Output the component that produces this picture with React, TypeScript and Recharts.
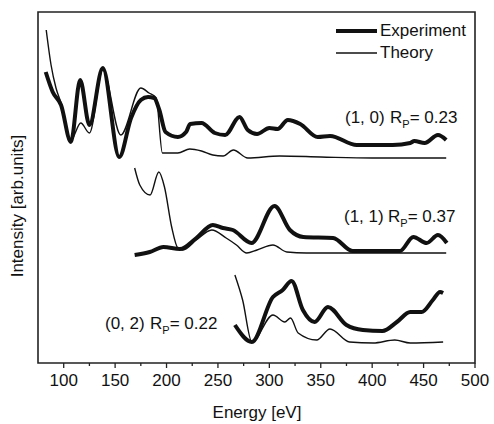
import { LineChart, Line, XAxis, YAxis, Legend, Customized, ReferenceArea } from 'recharts';

// energies (eV) and intensities (arb. units)
const exp10E = [82.5, 89.3, 97.4, 107, 116, 125, 138, 154, 165.5, 175, 182, 188, 193, 199, 211, 219, 223, 234, 247, 257, 271, 279, 288, 300, 308, 318, 330, 347, 359, 385, 420, 437, 441, 451, 464, 472];
const exp10I = [29.1, 27.1, 25.8, 22.1, 28.3, 23.8, 29.5, 20.6, 24.5, 26.3, 26.6, 26.5, 25.3, 23.1, 22.6, 23.1, 23.9, 24.0, 23.0, 22.8, 24.6, 23.3, 22.9, 23.5, 23.4, 24.3, 23.9, 22.6, 22.7, 21.8, 21.8, 22.0, 22.2, 22.0, 22.8, 22.3];

const th10E = [83, 87.7, 92.5, 97.4, 107, 116.6, 125, 138, 155.5, 175, 183, 190, 196, 211, 222.6, 234, 245, 255, 265, 279, 310, 350, 400, 472];
const th10I = [33.3, 29.8, 27.5, 26.0, 22.3, 24.0, 23.0, 29.3, 22.8, 27.5, 27.0, 26.5, 21.0, 21.0, 21.4, 21.2, 20.8, 20.7, 21.3, 20.5, 20.7, 20.6, 20.5, 20.5];

const exp11E = [169, 183.7, 197, 213, 229, 245, 254.8, 264.5, 282.6, 305, 320, 333, 362, 381, 427, 440, 453, 464, 472.6];
const exp11I = [10.8, 11.1, 11.6, 11.4, 12.5, 13.8, 13.5, 13.3, 12.0, 15.7, 13.3, 12.6, 12.5, 11.2, 11.2, 12.6, 12.0, 12.8, 12.0];

const th11E = [169, 174, 184, 192.5, 198, 205, 211, 216, 229, 244, 258, 268, 278, 288, 303.5, 317, 336, 400, 472];
const th11I = [19.5, 17.8, 16.8, 19.1, 17.6, 13.6, 11.5, 11.3, 12.3, 13.3, 12.5, 11.8, 11.0, 11.3, 11.8, 11.1, 11.0, 11.0, 11.0];

const exp02E = [266.5, 283, 303.5, 313, 321.6, 332.6, 344, 357, 375, 391, 410, 424, 437, 448, 459, 466, 469];
const exp02I = [3.8, 2.1, 6.6, 7.3, 8.2, 5.3, 4.1, 5.6, 3.8, 3.3, 3.2, 4.1, 5.1, 5.1, 6.3, 7.1, 7.0];

const th02E = [266.5, 274, 283, 303.5, 315, 320.6, 328, 346, 359, 378, 401, 422, 437, 469];
const th02I = [8.8, 6.3, 2.1, 4.8, 4.1, 4.5, 3.0, 2.3, 3.4, 2.1, 2.0, 2.3, 2.0, 2.1];

const xTicks = [100, 125, 150, 175, 200, 225, 250, 275, 300, 325, 350, 375, 400, 425, 450, 475, 500];

const labels = [
  { hkl: '(1, 0)', rp: '0.23' },
  { hkl: '(1, 1)', rp: '0.37' },
  { hkl: '(0, 2)', rp: '0.22' },
];

const FONT = '"Liberation Sans", Arial, sans-serif';
const INK = '#111';
const FRAME = '#222';

const toPoints = (e: number[], v: number[]) => e.map((x, i) => ({ e: x, v: v[i] }));

const EnergyTick = (props: any) => {
  const { x, y, payload } = props;
  const major = payload.value % 50 === 0;
  return (
    <g>
      <line x1={x} x2={x} y1={y} y2={y + (major ? 5 : 3)} stroke={FRAME} strokeWidth={1.3} />
      {major && (
        <text x={x} y={y + 23} textAnchor="middle" fontSize={17} fontFamily={FONT} fill={INK}>
          {payload.value}
        </text>
      )}
    </g>
  );
};

const labelPos = [
  { x: 345, r: 390, y: 123 },
  { x: 344, r: 388, y: 222 },
  { x: 105, r: 150, y: 329 },
];

const Annotations = () => (
  <g fontFamily={FONT} fill={INK}>
    {labels.map((l, i) => (
      <g key={l.hkl}>
        <text x={labelPos[i].x} y={labelPos[i].y} fontSize={17}>{l.hkl}</text>
        <text x={labelPos[i].r} y={labelPos[i].y} fontSize={17}>
          R
          <tspan fontSize={11} dy={5}>P</tspan>
          <tspan dy={-5}>= {l.rp}</tspan>
        </text>
      </g>
    ))}
    <text x={257} y={418} textAnchor="middle" fontSize={17}>Energy [eV]</text>
    <text x={23} y={206} textAnchor="middle" fontSize={17} transform="rotate(-90 23 206)">
      Intensity [arb.units]
    </text>
  </g>
);

const LegendBox = () => (
  <div style={{ fontFamily: FONT, fontSize: 17, color: INK, lineHeight: '22px' }}>
    {[
      { name: 'Experiment', w: 4 },
      { name: 'Theory', w: 1.4 },
    ].map((r) => (
      <div key={r.name} style={{ display: 'flex', alignItems: 'center', height: 22 }}>
        <svg width={42} height={8}>
          <line x1={0} x2={41} y1={4} y2={4} stroke={INK} strokeWidth={r.w} />
        </svg>
        <span style={{ marginLeft: 2 }}>{r.name}</span>
      </div>
    ))}
  </div>
);

export default function App() {
  const series = [
    { id: 'exp10', data: toPoints(exp10E, exp10I), w: 4 },
    { id: 'th10', data: toPoints(th10E, th10I), w: 1.4 },
    { id: 'exp11', data: toPoints(exp11E, exp11I), w: 4 },
    { id: 'th11', data: toPoints(th11E, th11I), w: 1.4 },
    { id: 'exp02', data: toPoints(exp02E, exp02I), w: 4 },
    { id: 'th02', data: toPoints(th02E, th02I), w: 1.4 },
  ];

  return (
    <div style={{ position: 'absolute', left: 0, top: 0, background: '#fff' }}>
      <LineChart width={494} height={424} margin={{ top: 12, right: 19, bottom: 0, left: 38 }}>
        <XAxis
          type="number"
          dataKey="e"
          domain={[75, 500]}
          allowDataOverflow
          ticks={xTicks}
          interval={0}
          tick={<EnergyTick />}
          tickLine={false}
          tickSize={0}
          tickMargin={0}
          height={61}
          axisLine={false}
        />
        <YAxis
          type="number"
          domain={[0, 35.1]}
          allowDataOverflow
          width={0}
          tick={false}
          tickLine={false}
          axisLine={false}
        />
        <ReferenceArea
          x1={75}
          x2={500}
          y1={0}
          y2={35.1}
          fill="none"
          fillOpacity={0}
          stroke={FRAME}
          strokeWidth={1.6}
          ifOverflow="visible"
        />
        {series.map((s) => (
          <Line
            key={s.id}
            data={s.data}
            dataKey="v"
            type="monotone"
            dot={false}
            stroke={INK}
            strokeWidth={s.w}
            strokeLinejoin="round"
            isAnimationActive={false}
          />
        ))}
        <Legend
          layout="vertical"
          verticalAlign="middle"
          align="center"
          content={<LegendBox />}
          wrapperStyle={{ top: 20, left: 336, width: 150 }}
        />
        <Customized component={Annotations} />
      </LineChart>
    </div>
  );
}
